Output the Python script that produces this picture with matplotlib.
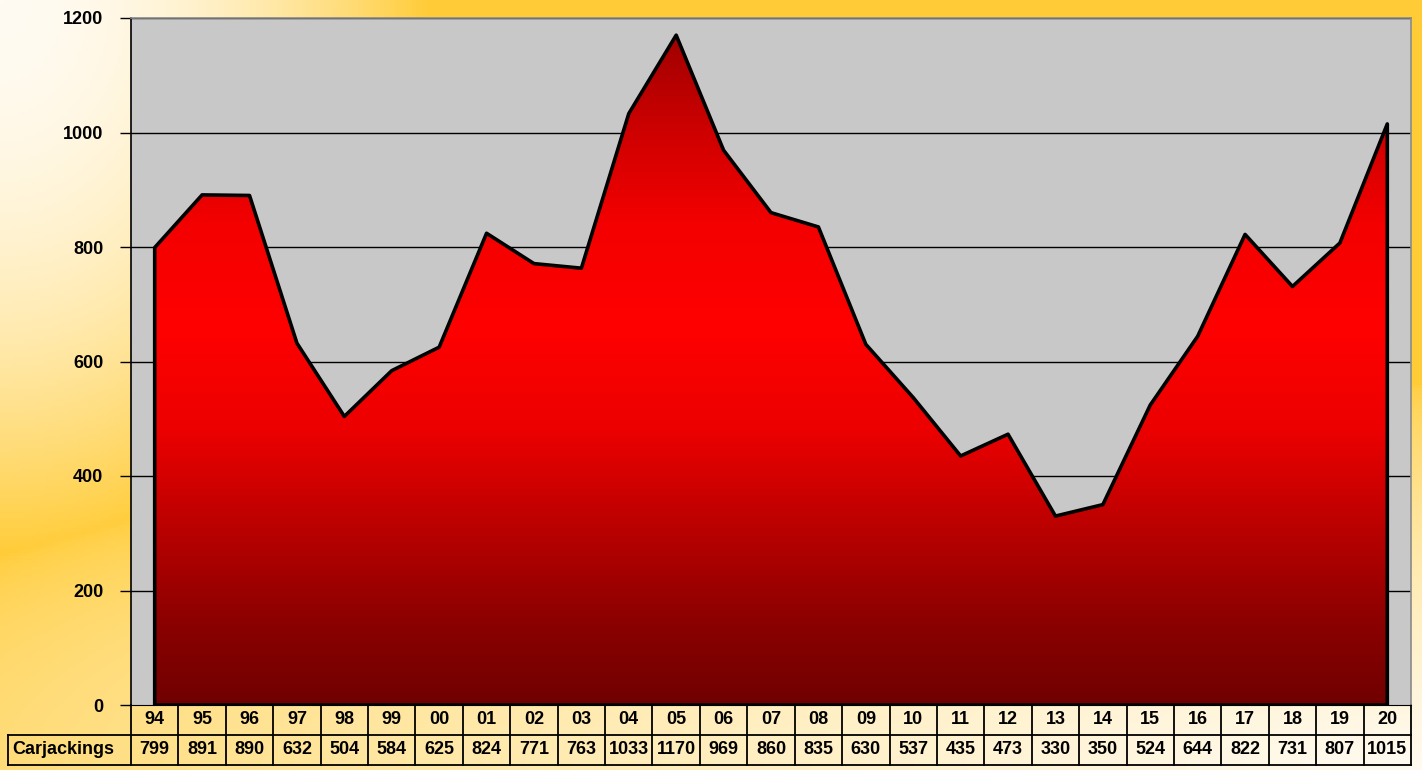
import matplotlib.pyplot as plt
import matplotlib.transforms as mtransforms
from matplotlib.colors import LinearSegmentedColormap
import numpy as np

plt.rcParams['font.family'] = ['Liberation Sans', 'DejaVu Sans']

years = ['94', '95', '96', '97', '98', '99', '00', '01', '02', '03', '04', '05', '06',
         '07', '08', '09', '10', '11', '12', '13', '14', '15', '16', '17', '18', '19', '20']
carjackings = [799, 891, 890, 632, 504, 584, 625, 824, 771, 763, 1033, 1170, 969,
               860, 835, 630, 537, 435, 473, 330, 350, 524, 644, 822, 731, 807, 1015]
row_label = 'Carjackings'
yticks = [0, 200, 400, 600, 800, 1000, 1200]

fig = plt.figure(figsize=(14.22, 7.70), dpi=100)

# background gradient (yellow with white corners)
bg = fig.add_axes([0, 0, 1, 1], zorder=-10)
gx, gy = np.meshgrid(np.linspace(0, 1, 400), np.linspace(0, 1, 220))
d1 = np.sqrt((gx / 0.3) ** 2 + (gy / 0.72) ** 2)
w1 = np.clip(1 - d1 ** 2, 0, 1)
d2 = np.sqrt(((gx - 1) / 1.2) ** 2 + ((gy - 1) / 0.5) ** 2)
w2 = np.clip(1 - d2, 0, 1) ** 0.6
w = np.maximum(w1, w2)[..., None]
yellow = np.array([255, 204, 56]) / 255
white = np.array([255, 251, 242]) / 255
bg.imshow(yellow * (1 - w) + white * w, extent=[0, 1, 1, 0], aspect='auto')
bg.set_xlim(0, 1)
bg.set_ylim(1, 0)
bg.axis('off')

ax = fig.add_axes([131 / 1422, 1 - 705 / 770, 1280 / 1422, 687 / 770])
ax.set_facecolor('#C8C8C8')
x = np.arange(len(years))
ax.set_xlim(-0.5, len(years) - 0.5)
ax.set_ylim(0, 1200)

for t in yticks[1:]:
    ax.axhline(t, color='black', lw=1.0, zorder=1)

poly = ax.fill_between(x, 0, carjackings, facecolor='none', edgecolor='black',
                       lw=2.6, zorder=4)
reds = LinearSegmentedColormap.from_list('reds', [
    (0.0, '#700000'), (0.12, '#8C0000'), (0.25, '#B80000'), (0.4, '#EC0000'),
    (0.55, '#FF0000'), (0.7, '#F40000'), (0.83, '#D00000'), (1.0, '#980000')])
grad = np.linspace(0, 1, 256)[:, None]
im = ax.imshow(grad, cmap=reds, extent=[-0.5, len(years) - 0.5, 0, 1200],
               origin='lower', aspect='auto', zorder=3)
im.set_clip_path(poly.get_paths()[0], transform=ax.transData)

ax.set_yticks(yticks)
ax.set_yticklabels([str(t) for t in yticks], fontsize=13, fontweight='bold')
ax.tick_params(axis='y', length=8, width=1, pad=12)
ax.set_xticks([])
ax.spines['left'].set_color('black')
ax.spines['left'].set_linewidth(1.2)
for s in ['top', 'right']:
    ax.spines[s].set_color('#8A8A8A')
    ax.spines[s].set_linewidth(1.2)
ax.spines['bottom'].set_color('black')

# data table below the axis
tr = mtransforms.blended_transform_factory(ax.transData, ax.transAxes)
r1 = -30 / 687
r2 = -60 / 687
left_label = -0.5 - 123 / (1280 / 27)
n = len(years)
lk = dict(color='black', lw=1.3, transform=tr, clip_on=False)
ax.plot([left_label, n - 0.5], [r1, r1], **lk)
ax.plot([left_label, n - 0.5], [r2, r2], **lk)
ax.plot([left_label, left_label], [r1, r2], **lk)
for i in range(n + 1):
    ax.plot([i - 0.5, i - 0.5], [0, r2], **lk)
for i in range(n):
    ax.text(x[i], r1 / 2, years[i], transform=tr, ha='center', va='center',
            fontsize=13, fontweight='bold')
    ax.text(x[i], (r1 + r2) / 2, str(carjackings[i]), transform=tr, ha='center',
            va='center', fontsize=13, fontweight='bold')
ax.text(left_label + 0.1, (r1 + r2) / 2, row_label, transform=tr, ha='left',
        va='center', fontsize=13, fontweight='bold')

fig.savefig('out.png', dpi=100)
